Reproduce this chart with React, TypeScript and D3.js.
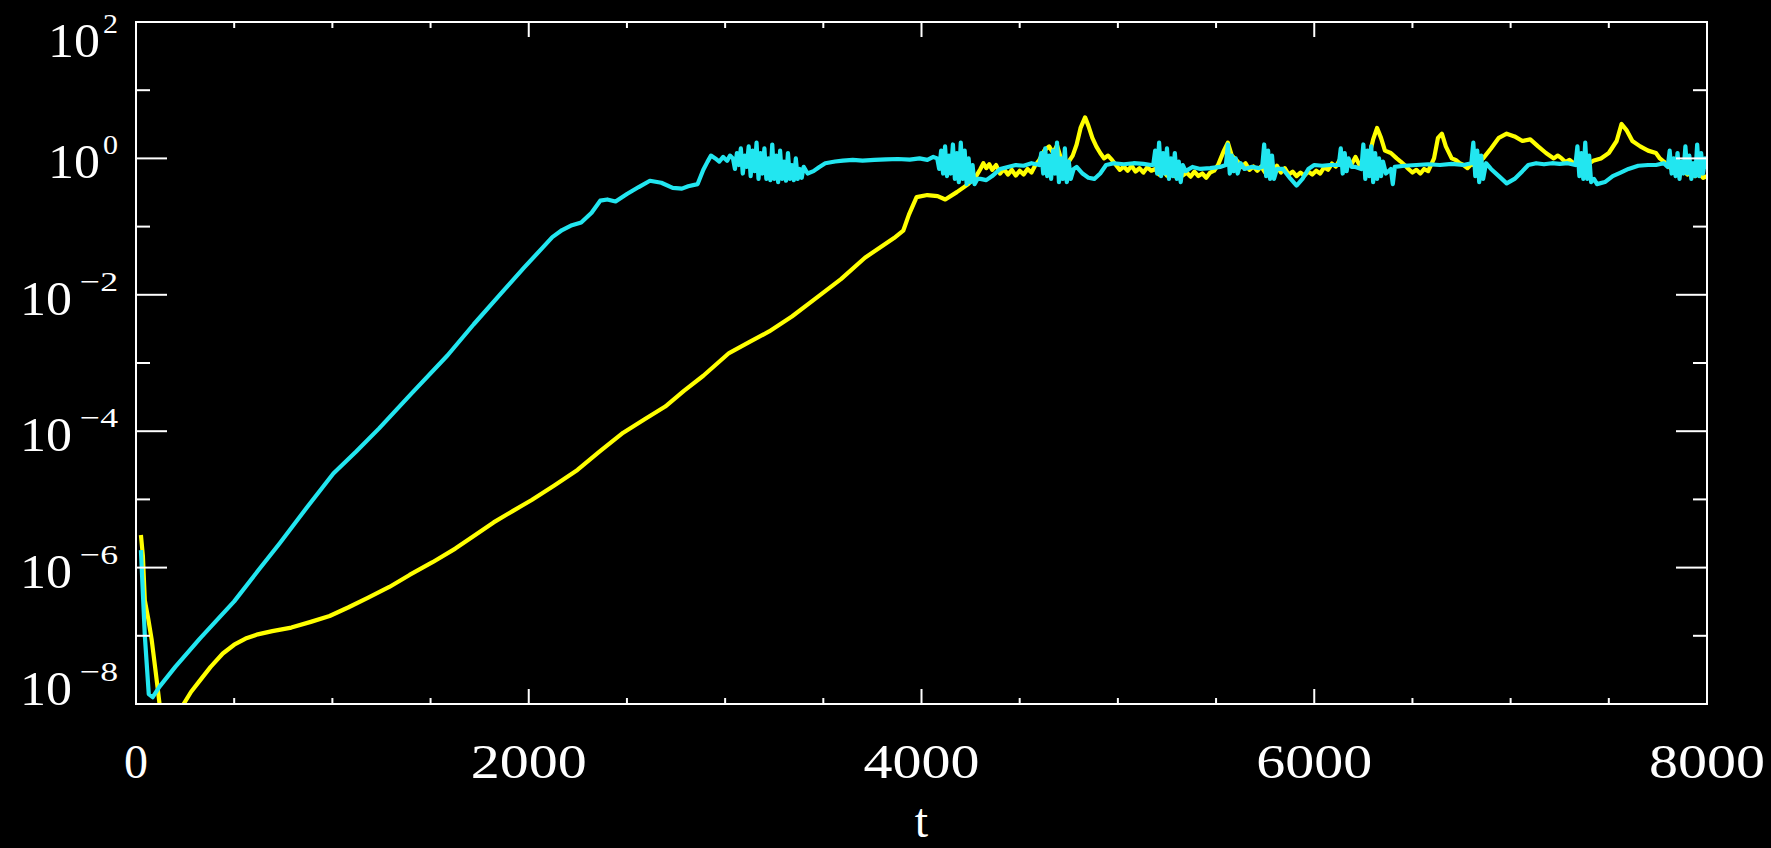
import React, { useEffect } from "react";
import * as d3 from "d3";

const W = 1771;
const H = 848;
const box = { left: 136, right: 1707, top: 22, bottom: 704 };

// tick values and labels
const xMinorTicks = [500, 1000, 1500, 2500, 3000, 3500, 4500, 5000, 5500, 6500, 7000, 7500];
const xMajorTicks = [0, 2000, 4000, 6000, 8000];
const xTickLabels = ["0", "2000", "4000", "6000", "8000"];
const yMajorExp = [2, 0, -2, -4, -6, -8];
const yMinorExp = [1, -1, -3, -5, -7];

// [t, value]
const yellow: [number, number][] = [
  [25, 3.0e-6], [35, 1.5e-6], [45, 3.3e-7], [62, 1.8e-7], [80, 8.7e-8], [100, 3.0e-8], [120, 1.0e-8],
  [150, 5e-9], [200, 5e-9], [238, 9.5e-9], [280, 1.5e-8], [325, 2.2e-8], [380, 3.5e-8], [442, 5.5e-8],
  [500, 7.4e-8], [558, 9.1e-8], [620, 1.05e-7], [694, 1.17e-7], [791, 1.32e-7], [890, 1.6e-7],
  [986, 1.95e-7], [1080, 2.6e-7], [1180, 3.6e-7], [1290, 5.2e-7], [1393, 7.8e-7], [1510, 1.2e-6],
  [1626, 1.9e-6], [1720, 2.9e-6], [1821, 4.6e-6], [1920, 6.8e-6], [2015, 9.8e-6], [2130, 1.6e-5],
  [2248, 2.7e-5], [2360, 5.0e-5], [2481, 9.5e-5], [2590, 1.5e-4], [2695, 2.3e-4], [2790, 3.9e-4],
  [2889, 6.5e-4], [3020, 1.4e-3], [3120, 2.0e-3], [3224, 2.9e-3], [3340, 4.8e-3], [3458, 8.7e-3],
  [3590, 1.7e-2], [3712, 3.5e-2], [3800, 5.2e-2], [3860, 6.8e-2], [3907, 8.7e-2], [3936, 0.15],
  [3975, 0.27], [4030, 0.29], [4082, 0.28], [4121, 0.25], [4180, 0.32], [4238, 0.42], [4277, 0.54],
  [4300, 0.7], [4315, 0.85], [4330, 0.72], [4345, 0.82], [4360, 0.68], [4380, 0.8], [4400, 0.6],
  [4420, 0.7], [4440, 0.58], [4460, 0.68], [4480, 0.56], [4500, 0.66], [4520, 0.58], [4540, 0.7],
  [4560, 0.62], [4580, 0.8], [4600, 0.95], [4625, 1.3], [4650, 1.5], [4670, 1.2], [4690, 1.55],
  [4710, 1.0], [4730, 0.85], [4750, 0.9], [4770, 1.1], [4790, 1.6], [4810, 2.8], [4833, 4.0],
  [4850, 3.0], [4870, 2.0], [4890, 1.5], [4910, 1.2], [4930, 1.0], [4950, 1.1], [4970, 0.95],
  [4990, 0.8], [5010, 0.68], [5030, 0.76], [5050, 0.66], [5070, 0.78], [5090, 0.64], [5110, 0.72],
  [5130, 0.62], [5150, 0.74], [5170, 0.66], [5190, 0.7], [5210, 0.58], [5230, 0.66], [5250, 0.56],
  [5270, 0.64], [5290, 0.55], [5310, 0.68], [5330, 0.56], [5350, 0.62], [5370, 0.54], [5390, 0.64],
  [5410, 0.55], [5430, 0.6], [5450, 0.52], [5470, 0.62], [5490, 0.66], [5510, 0.8], [5540, 1.3],
  [5560, 1.7], [5580, 1.1], [5610, 0.9], [5630, 0.75], [5650, 0.85], [5670, 0.68], [5690, 0.76],
  [5710, 0.66], [5730, 0.76], [5750, 0.62], [5770, 0.7], [5790, 0.64], [5810, 0.78], [5830, 0.62],
  [5850, 0.72], [5870, 0.58], [5890, 0.64], [5910, 0.55], [5930, 0.62], [5950, 0.56], [5970, 0.64],
  [5990, 0.58], [6010, 0.66], [6030, 0.6], [6050, 0.74], [6070, 0.68], [6090, 0.84], [6110, 0.76],
  [6130, 0.95], [6150, 0.8], [6170, 0.9], [6190, 0.82], [6210, 1.05], [6230, 0.8], [6250, 0.85],
  [6280, 1.1], [6300, 1.9], [6320, 2.8], [6340, 2.0], [6360, 1.3], [6390, 1.2], [6420, 1.0],
  [6440, 0.9], [6460, 0.8], [6480, 0.7], [6500, 0.62], [6520, 0.68], [6540, 0.6], [6560, 0.7],
  [6580, 0.65], [6610, 1.0], [6630, 2.0], [6650, 2.3], [6670, 1.5], [6700, 1.0], [6720, 0.95],
  [6740, 0.85], [6760, 0.8], [6780, 0.72], [6800, 0.82], [6820, 0.78], [6840, 0.9], [6860, 1.0],
  [6900, 1.4], [6940, 2.0], [6980, 2.3], [7020, 2.1], [7060, 1.8], [7100, 1.9], [7140, 1.5],
  [7180, 1.2], [7220, 1.0], [7240, 1.1], [7260, 1.0], [7280, 0.88], [7300, 0.95], [7320, 0.85],
  [7340, 0.92], [7360, 0.82], [7380, 0.88], [7400, 0.84], [7420, 0.92], [7460, 1.0], [7500, 1.2],
  [7540, 1.8], [7565, 3.2], [7590, 2.6], [7620, 1.8], [7660, 1.5], [7700, 1.3], [7740, 1.2],
  [7760, 1.0], [7780, 0.9], [7800, 0.78], [7820, 0.7], [7840, 0.62], [7860, 0.6], [7880, 0.66],
  [7900, 0.58], [7920, 0.62], [7940, 0.55], [7960, 0.6], [7980, 0.52], [8000, 0.55],
];

const cyan: [number, number][] = [
  [25, 1.8e-6], [45, 1.0e-7], [65, 1.4e-8], [85, 1.26e-8], [120, 1.8e-8], [200, 3.5e-8], [325, 9.1e-8],
  [420, 1.8e-7], [500, 3.2e-7], [620, 8.9e-7], [733, 2.3e-6], [870, 7.6e-6], [1005, 2.4e-5],
  [1120, 5.0e-5], [1238, 1.1e-4], [1400, 3.5e-4], [1587, 1.3e-3], [1720, 3.7e-3], [1859, 1.05e-2],
  [1976, 2.5e-2], [2073, 5.0e-2], [2120, 7.0e-2], [2170, 8.9e-2], [2220, 0.105], [2267, 0.115],
  [2320, 0.16], [2364, 0.24], [2400, 0.25], [2442, 0.234], [2500, 0.3], [2560, 0.38], [2617, 0.47],
  [2675, 0.44], [2733, 0.37], [2780, 0.36], [2812, 0.39], [2860, 0.42], [2889, 0.68], [2910, 0.89],
  [2928, 1.1], [2950, 1.0], [2970, 0.9], [2990, 1.05], [3010, 0.92], [3025, 1.1], [3040, 1.0],
  [3050, 0.7], [3060, 1.2], [3070, 0.8], [3080, 1.4], [3090, 0.6], [3100, 1.1], [3110, 0.75],
  [3120, 1.5], [3130, 0.55], [3140, 1.3], [3150, 0.65], [3160, 1.7], [3170, 0.5], [3180, 1.2],
  [3190, 0.6], [3200, 1.4], [3210, 0.5], [3220, 1.0], [3230, 0.48], [3240, 1.6], [3250, 0.5],
  [3260, 1.1], [3270, 0.45], [3280, 1.3], [3290, 0.5], [3300, 0.9], [3310, 0.47], [3320, 1.2],
  [3330, 0.5], [3340, 0.8], [3350, 0.48], [3360, 1.0], [3370, 0.5], [3380, 0.7], [3390, 0.52],
  [3400, 0.75], [3420, 0.6], [3450, 0.65], [3480, 0.75], [3510, 0.85], [3560, 0.9], [3600, 0.93],
  [3650, 0.95], [3700, 0.93], [3760, 0.95], [3820, 0.97], [3880, 0.98], [3940, 0.96], [3990, 1.0],
  [4030, 0.95], [4060, 1.05], [4080, 1.0], [4090, 0.7], [4100, 1.3], [4110, 0.6], [4120, 1.5],
  [4130, 0.55], [4140, 1.1], [4150, 0.6], [4160, 1.6], [4170, 0.5], [4180, 1.2], [4190, 0.45],
  [4200, 1.7], [4210, 0.5], [4220, 1.3], [4230, 0.42], [4240, 1.0], [4250, 0.45], [4260, 0.8],
  [4270, 0.42], [4285, 0.5], [4300, 0.5], [4330, 0.48], [4360, 0.55], [4400, 0.7], [4440, 0.75],
  [4480, 0.8], [4520, 0.78], [4560, 0.85], [4600, 0.8], [4610, 1.2], [4620, 0.6], [4630, 1.4],
  [4640, 0.55], [4650, 1.1], [4660, 0.5], [4670, 1.3], [4680, 0.6], [4690, 1.7], [4700, 0.45],
  [4710, 1.0], [4720, 0.5], [4730, 1.4], [4740, 0.45], [4750, 0.9], [4760, 0.5], [4775, 0.7],
  [4790, 0.75], [4820, 0.6], [4850, 0.52], [4880, 0.5], [4910, 0.6], [4940, 0.8], [4980, 0.85],
  [5030, 0.82], [5080, 0.85], [5130, 0.83], [5170, 0.8], [5180, 0.8], [5190, 1.3], [5200, 0.6],
  [5210, 1.7], [5220, 0.55], [5230, 1.2], [5240, 0.6], [5250, 1.4], [5260, 0.5], [5270, 1.0],
  [5280, 0.55], [5290, 1.2], [5300, 0.5], [5310, 0.9], [5320, 0.45], [5330, 0.8], [5345, 0.65],
  [5380, 0.75], [5420, 0.7], [5470, 0.72], [5520, 0.75], [5550, 0.8], [5560, 1.6], [5570, 0.6],
  [5580, 1.1], [5590, 0.65], [5600, 1.0], [5610, 0.6], [5625, 0.85], [5645, 0.7], [5680, 0.75],
  [5720, 0.72], [5735, 0.75], [5745, 1.6], [5755, 0.55], [5765, 1.3], [5775, 0.5], [5785, 1.1],
  [5795, 0.5], [5810, 0.7], [5840, 0.7], [5880, 0.5], [5910, 0.4], [5940, 0.5], [5970, 0.7],
  [6000, 0.8], [6040, 0.78], [6080, 0.8], [6110, 0.8], [6125, 0.8], [6135, 1.4], [6145, 0.6],
  [6155, 1.2], [6165, 0.65], [6175, 1.0], [6190, 0.75], [6210, 0.75], [6240, 0.7], [6250, 1.6],
  [6260, 0.5], [6270, 1.3], [6280, 0.55], [6290, 1.5], [6300, 0.45], [6310, 1.2], [6320, 0.5],
  [6330, 1.0], [6340, 0.55], [6350, 0.9], [6365, 0.6], [6390, 0.7], [6400, 0.42], [6410, 0.75],
  [6460, 0.78], [6520, 0.8], [6580, 0.82], [6640, 0.8], [6700, 0.83], [6760, 0.8], [6800, 0.85],
  [6810, 1.7], [6820, 0.55], [6830, 1.3], [6840, 0.45], [6850, 1.1], [6860, 0.5], [6875, 0.85],
  [6900, 0.7], [6940, 0.55], [6980, 0.43], [7020, 0.5], [7060, 0.65], [7090, 0.8], [7130, 0.85],
  [7170, 0.82], [7210, 0.85], [7250, 0.83], [7290, 0.85], [7330, 0.8], [7340, 1.5], [7350, 0.55],
  [7360, 1.2], [7370, 0.5], [7380, 1.7], [7390, 0.5], [7400, 1.1], [7410, 0.45], [7425, 0.5],
  [7440, 0.42], [7480, 0.45], [7520, 0.55], [7560, 0.62], [7600, 0.7], [7650, 0.78], [7700, 0.8],
  [7740, 0.8], [7780, 0.85], [7800, 0.75], [7810, 1.3], [7820, 0.6], [7830, 1.0], [7840, 0.55],
  [7850, 1.2], [7860, 0.5], [7870, 0.9], [7880, 0.6], [7890, 1.5], [7900, 0.6], [7910, 1.1],
  [7920, 0.5], [7930, 0.85], [7940, 0.55], [7950, 1.6], [7960, 0.55], [7970, 1.2], [7980, 0.6],
  [7990, 1.0], [8000, 0.7],
];

const font = "'Liberation Serif', 'Times New Roman', serif";

export default function App() {
  useEffect(() => {
    document.body.style.margin = "0";
    document.body.style.background = "#000";
  }, []);

  const x = d3.scaleLinear().domain([0, 8000]).range([box.left, box.right]);
  const y = d3.scaleLog().domain([1e-8, 1e2]).range([box.bottom, box.top]);
  const line = d3
    .line<[number, number]>()
    .x((d) => x(d[0]))
    .y((d) => y(d[1]));

  const labelBaseline = (e: number) => {
    if (e === 2) return box.top + 35;
    if (e === -8) return box.bottom + 1;
    return y(Math.pow(10, e)) + 20;
  };

  return (
    <svg width={W} height={H} style={{ display: "block", background: "#000" }}>
      <rect x={0} y={0} width={W} height={H} fill="#000" />
      <defs>
        <clipPath id="plot">
          <rect x={box.left} y={box.top} width={box.right - box.left} height={box.bottom - box.top} />
        </clipPath>
      </defs>

      <g clipPath="url(#plot)" fill="none" strokeWidth={4.2} strokeLinejoin="round">
        <path d={line(yellow) || ""} stroke="#ffff00" />
        <path d={line(cyan) || ""} stroke="#22e6f0" />
      </g>

      {/* frame */}
      <rect
        x={box.left}
        y={box.top}
        width={box.right - box.left}
        height={box.bottom - box.top}
        fill="none"
        stroke="#fff"
        strokeWidth={2}
      />

      {/* ticks on all four sides */}
      <g stroke="#fff" strokeWidth={2}>
        {xMinorTicks.map((t) => (
          <g key={"xm" + t}>
            <line x1={x(t)} x2={x(t)} y1={box.bottom} y2={box.bottom - 6} />
            <line x1={x(t)} x2={x(t)} y1={box.top} y2={box.top + 6} />
          </g>
        ))}
        {xMajorTicks.map((t) => (
          <g key={"xM" + t}>
            <line x1={x(t)} x2={x(t)} y1={box.bottom} y2={box.bottom - 15} />
            <line x1={x(t)} x2={x(t)} y1={box.top} y2={box.top + 15} />
          </g>
        ))}
        {yMajorExp.map((e) => (
          <g key={"yM" + e}>
            <line x1={box.left} x2={box.left + 31} y1={y(Math.pow(10, e))} y2={y(Math.pow(10, e))} />
            <line x1={box.right} x2={box.right - 31} y1={y(Math.pow(10, e))} y2={y(Math.pow(10, e))} />
          </g>
        ))}
        {yMinorExp.map((e) => (
          <g key={"ym" + e}>
            <line x1={box.left} x2={box.left + 14} y1={y(Math.pow(10, e))} y2={y(Math.pow(10, e))} />
            <line x1={box.right} x2={box.right - 14} y1={y(Math.pow(10, e))} y2={y(Math.pow(10, e))} />
          </g>
        ))}
      </g>

      {/* x labels */}
      <g fill="#fff" fontFamily={font} fontSize={48} textAnchor="middle">
        {xMajorTicks.map((t, i) =>
          xTickLabels[i].length > 1 ? (
            <text key={"xl" + t} x={x(t)} y={778} textLength={116} lengthAdjust="spacingAndGlyphs">
              {xTickLabels[i]}
            </text>
          ) : (
            <text key={"xl" + t} x={x(t)} y={778}>
              {xTickLabels[i]}
            </text>
          )
        )}
        <text x={x(4000)} y={837}>t</text>
      </g>

      {/* y labels: 10^e */}
      <g fill="#fff" fontFamily={font}>
        {yMajorExp.map((e) => {
          const base = labelBaseline(e);
          const neg = e < 0;
          const supW = neg ? 38 : 15;
          const gap = neg ? 8 : 3;
          const supText = neg ? "\u2212" + String(-e) : String(e);
          return (
            <g key={"yl" + e}>
              <text
                x={118 - supW - gap}
                y={base}
                fontSize={48}
                textAnchor="end"
                textLength={52}
                lengthAdjust="spacingAndGlyphs"
              >
                10
              </text>
              <text
                x={118}
                y={base - 24}
                fontSize={28}
                textAnchor="end"
                textLength={supW}
                lengthAdjust="spacingAndGlyphs"
              >
                {supText}
              </text>
            </g>
          );
        })}
      </g>
    </svg>
  );
}
